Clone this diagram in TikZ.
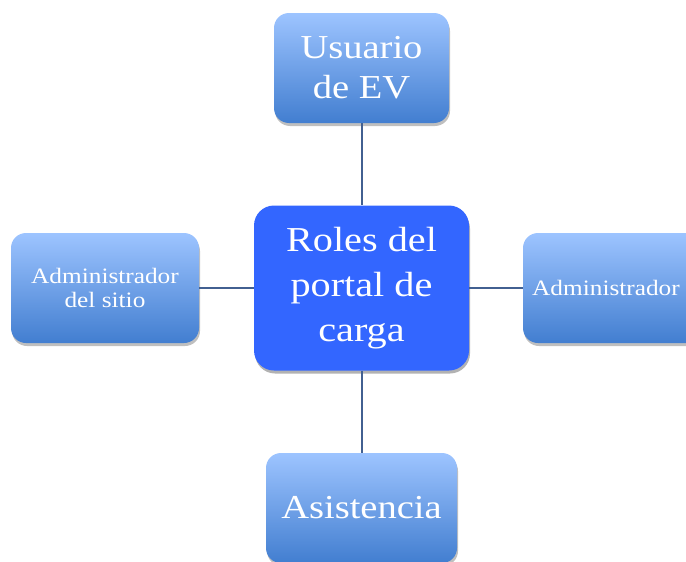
\documentclass[tikz,border=0pt]{standalone}
\usepackage{fontspec}
\newfontfamily\boxfont{Liberation Serif}[FakeStretch=1.15]
\usetikzlibrary{shadows}
\definecolor{boxtop}{RGB}{157,196,255}
\definecolor{boxbot}{RGB}{66,126,208}
\definecolor{centerfill}{RGB}{51,102,255}
\definecolor{linkcol}{RGB}{66,96,145}
\tikzset{
  rolebox/.style={rounded corners=15pt, top color=boxtop, bottom color=boxbot, draw=none,
    text=white, align=center, inner sep=0pt,
    drop shadow={shadow xshift=1pt, shadow yshift=-3pt, opacity=0.25, fill=black}},
  centerbox/.style={rounded corners=20pt, fill=centerfill, draw=none, text=white, align=center, inner sep=0pt,
    minimum width=215pt, minimum height=165pt,
    drop shadow={shadow xshift=1pt, shadow yshift=-3pt, opacity=0.3, fill=black},
    font=\boxfont\fontsize{35}{45}\selectfont},
  link/.style={draw=linkcol, line width=2pt},
  bigtext/.style={font=\boxfont\fontsize{33.5}{40}\selectfont},
  smalltext/.style={font=\boxfont\fontsize{22}{24}\selectfont}
}
\begin{document}
\begin{tikzpicture}[x=1pt,y=-1pt]
\useasboundingbox (0,0) rectangle (686,562);
\clip (0,0) rectangle (686,562);
\node[centerbox] (c) at (361.5,288) {Roles del\\portal de\\carga};
\node[rolebox, bigtext, minimum width=175pt, minimum height=110pt] (u) at (361.5,68) {Usuario\\de EV};
\node[rolebox, smalltext, minimum width=188pt, minimum height=110pt] (l) at (105,288) {Administrador\\del sitio};
\node[rolebox, smalltext, minimum width=188pt, minimum height=110pt, text width=188pt] (r) at (617,288) {\hspace*{-22pt}Administrador};
\node[rolebox, bigtext, minimum width=191pt, minimum height=110pt] (b) at (361.5,508) {Asistencia};
\draw[link] (u.south) -- (c.north);
\draw[link] (c.south) -- (b.north);
\draw[link] (l.east) -- (c.west);
\draw[link] (c.east) -- (r.west);
\end{tikzpicture}
\end{document}
